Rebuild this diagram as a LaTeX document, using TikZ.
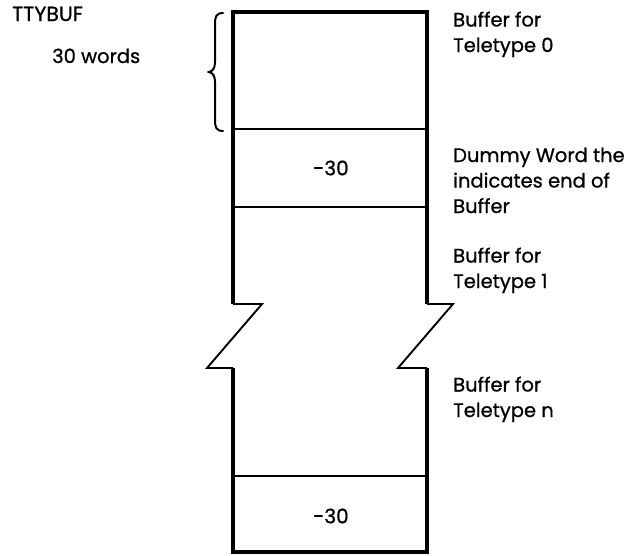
\documentclass[tikz,border=0pt]{standalone}
\usepackage{fontspec}
\setmainfont{Poppins}[FakeBold=0.8]
\begin{document}
\begin{tikzpicture}[x=1pt, y=-1pt,
  wall/.style={line width=3.2pt, line join=miter},
  rule/.style={line width=2.9pt},
  zig/.style={line width=1.9pt, line join=miter},
  bracepath/.style={line width=2pt, line cap=round},
  lbl/.style={font=\fontsize{19.5}{25.5}\selectfont, align=left, anchor=base west, inner sep=0pt},
  val/.style={font=\fontsize{20}{22}\selectfont, inner sep=0pt}]
\useasboundingbox (0,0) rectangle (634,555);

% column corners
\coordinate (tl) at (233,12);
\coordinate (tr) at (427,12);
\coordinate (bl) at (233,552);
\coordinate (br) at (427,552);

% upper part of the column
\draw[wall] (233,304) -- (tl) -- (tr) -- (427,304);
\draw[rule] (233,129) -- (427,129);
\draw[rule] (233,207) -- (427,207);

% break marks
\draw[zig] (233,304) -- (262,304) -- (207,368) -- (233,368);
\draw[zig] (427,304) -- (453,304) -- (398,368) -- (427,368);

% lower part of the column
\draw[wall] (233,368) -- (bl) -- (br) -- (427,368);
\draw[rule] (233,476) -- (427,476);

% brace spanning the first buffer
\draw[bracepath] (223,13) .. controls (216,13) and (215,17) .. (215,24)
  -- (215,62) .. controls (215,68) and (213,71) .. (209,72)
  .. controls (213,73) and (215,76) .. (215,82)
  -- (215,120) .. controls (215,127) and (216,131) .. (223,131);

% contents
\node[val] (dummy0) at (331,168) {-30};
\node[val] (dummyn) at (331,516) {-30};

% labels (anchored at the baseline of their last line)
\node[lbl, font=\fontsize{20.5}{25.5}\selectfont] (ttybuf) at (12,21) {TTYBUF};
\node[lbl] (count) at (52,63) {30 words};
\node[lbl] (buf0) at (453,52) {Buffer for\\Teletype 0};
\node[lbl] (dummy) at (453,213) {Dummy Word the\\indicates end of\\Buffer};
\node[lbl] (buf1) at (453,288) {Buffer for\\Teletype 1};
\node[lbl] (bufn) at (453,417) {Buffer for\\Teletype n};
\end{tikzpicture}
\end{document}
